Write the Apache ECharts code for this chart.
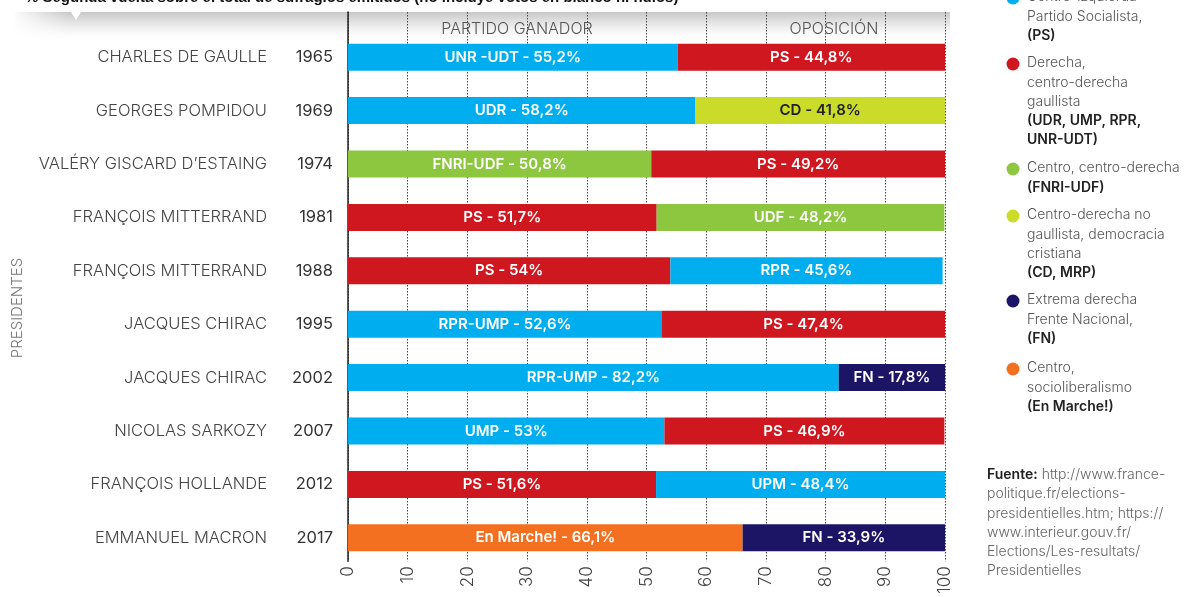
<!DOCTYPE html>
<html>
<head>
<meta charset="utf-8">
<script src="https://cdn.jsdelivr.net/npm/echarts@6/dist/echarts.min.js"></script>
<style>
  html, body { margin: 0; padding: 0; background: #fff; }
  #main { width: 1202px; height: 597px; }
</style>
</head>
<body>
<div id="main"></div>
<script>
// datos segunda vuelta
var presidentes = ['CHARLES DE GAULLE', 'GEORGES POMPIDOU', 'VALÉRY GISCARD D\u2019ESTAING', 'FRANÇOIS MITTERRAND',
  'FRANÇOIS MITTERRAND', 'JACQUES CHIRAC', 'JACQUES CHIRAC', 'NICOLAS SARKOZY', 'FRANÇOIS HOLLANDE', 'EMMANUEL MACRON'];
var anios = ['1965', '1969', '1974', '1981', '1988', '1995', '2002', '2007', '2012', '2017'];

var ganador = [55.2, 58.2, 50.8, 51.7, 54, 52.6, 82.2, 53, 51.6, 66.1];
var ganadorPartido = ['UNR -UDT', 'UDR', 'FNRI-UDF', 'PS', 'PS', 'RPR-UMP', 'RPR-UMP', 'UMP', 'PS', 'En Marche!'];
var ganadorColor = ['azul', 'azul', 'verde', 'rojo', 'rojo', 'azul', 'azul', 'azul', 'rojo', 'naranja'];

var oposicion = [44.8, 41.8, 49.2, 48.2, 45.6, 47.4, 17.8, 46.9, 48.4, 33.9];
var oposicionPartido = ['PS', 'CD', 'PS', 'UDF', 'RPR', 'PS', 'FN', 'PS', 'UPM', 'FN'];
var oposicionColor = ['rojo', 'lima', 'rojo', 'verde', 'azul', 'rojo', 'marino', 'rojo', 'azul', 'marino'];

var ticks = [0, 10, 20, 30, 40, 50, 60, 70, 80, 90, 100];

var colores = {
  azul: '#00aeef',
  rojo: '#cf1720',
  verde: '#8dc63f',
  lima: '#cadb2a',
  marino: '#1c1464',
  naranja: '#f37021'
};

var leyenda = [
  { color: 'azul', lineas: ['Centro-izquierda', 'Partido Socialista,'], negrita: ['(PS)'] },
  { color: 'rojo', lineas: ['Derecha,', 'centro-derecha', 'gaullista'], negrita: ['(UDR, UMP, RPR,', 'UNR-UDT)'] },
  { color: 'verde', lineas: ['Centro, centro-derecha'], negrita: ['(FNRI-UDF)'] },
  { color: 'lima', lineas: ['Centro-derecha no', 'gaullista, democracia', 'cristiana'], negrita: ['(CD, MRP)'] },
  { color: 'marino', lineas: ['Extrema derecha', 'Frente Nacional,'], negrita: ['(FN)'] },
  { color: 'naranja', lineas: ['Centro,', 'socioliberalismo'], negrita: ['(En Marche!)'] }
];
var leyendaY = [-3, 63, 168, 215, 300, 368];

var fuente = ['{b|Fuente:} http://www.france-', 'politique.fr/elections-', 'presidentielles.htm; https://',
  'www.interieur.gouv.fr/', 'Elections/Les-resultats/', 'Presidentielles'];

var FONT = 'Inter, "Noto Sans", sans-serif';

function pct(v) {
  return String(v).replace('.', ',') + '%';
}

var myChart = echarts.init(document.getElementById('main'));

var graphics = [];
// sombra de la cabecera
graphics.push({
  type: 'rect', z: -10,
  shape: { x: 15, y: 12, width: 935, height: 30 },
  style: {
    fill: new echarts.graphic.LinearGradient(0, 0, 0, 1, [
      { offset: 0, color: 'rgba(195,195,195,0.95)' },
      { offset: 0.45, color: 'rgba(220,220,220,0.6)' },
      { offset: 1, color: 'rgba(255,255,255,0)' }
    ])
  }
});
graphics.push({
  type: 'rect', z: -9,
  shape: { x: 10, y: 10, width: 60, height: 34 },
  style: {
    fill: new echarts.graphic.LinearGradient(0, 0, 1, 0, [
      { offset: 0, color: 'rgba(255,255,255,1)' },
      { offset: 1, color: 'rgba(255,255,255,0)' }
    ])
  }
});
graphics.push({
  type: 'polygon', z: -8,
  shape: { points: [[71, 12], [81, 12], [76, 20]] },
  style: { fill: '#fff' }
});
graphics.push({
  type: 'text', left: 25, top: -10,
  style: {
    text: '% Segunda vuelta sobre el total de sufragios emitidos (no incluye votos en blanco ni nulos)',
    font: 'bold 15px "Liberation Sans", Arial, sans-serif', fill: '#111'
  }
});
graphics.push({
  type: 'text', x: 517, y: 29,
  style: { text: 'PARTIDO GANADOR', font: '300 16px ' + FONT, fill: '#555', align: 'center', verticalAlign: 'middle' }
});
graphics.push({
  type: 'text', x: 834, y: 29,
  style: { text: 'OPOSICIÓN', font: '300 16px ' + FONT, fill: '#555', align: 'center', verticalAlign: 'middle' }
});
graphics.push({
  type: 'text', x: 17, y: 308, rotation: Math.PI / 2,
  style: { text: 'PRESIDENTES', font: '300 15px ' + FONT, fill: '#777', align: 'center', verticalAlign: 'middle' }
});

// leyenda
leyenda.forEach(function (item, i) {
  var y0 = leyendaY[i];
  graphics.push({
    type: 'circle',
    shape: { cx: 1013, cy: y0 + 1, r: 6.5 },
    style: { fill: colores[item.color] }
  });
  var lines = item.lineas.concat(item.negrita);
  lines.forEach(function (t, j) {
    var bold = j >= item.lineas.length;
    graphics.push({
      type: 'text', x: 1027, y: y0 + j * 19.3,
      style: {
        text: t, font: (bold ? '600 ' : '300 ') + '14px ' + FONT,
        fill: bold ? '#222' : '#555', verticalAlign: 'middle'
      }
    });
  });
});

// fuente
fuente.forEach(function (t, j) {
  graphics.push({
    type: 'text', x: 987, y: 475 + j * 19.2,
    style: {
      text: t, font: '300 14px ' + FONT, fill: '#666', verticalAlign: 'middle',
      rich: { b: { fontWeight: 600, fill: '#222', fontSize: 14, fontFamily: FONT } }
    }
  });
});

function barData(vals, cols) {
  return vals.map(function (v, i) {
    return { value: v, itemStyle: { color: colores[cols[i]] } };
  });
}

var option = {
  animation: false,
  backgroundColor: '#fff',
  textStyle: { fontFamily: FONT },
  graphic: graphics,
  grid: [
    { left: 348, right: 257, top: 30.5, height: 534, containLabel: false },
    { left: 348, right: 257, top: 12, height: 563, containLabel: false }
  ],
  xAxis: [
    { gridIndex: 0, type: 'value', min: 0, max: 100, show: false },
    {
      gridIndex: 1, type: 'value', min: 0, max: 100, interval: 10,
      axisLine: { show: false }, axisTick: { show: false },
      splitLine: { show: true, lineStyle: { color: '#444', type: [1.5, 1.5], width: 1 } },
      axisLabel: {
        rotate: 90, margin: 5, color: '#444', fontSize: 17, fontWeight: 300,
        formatter: function (v) { return ticks.indexOf(v) >= 0 ? String(v) : ''; }
      }
    }
  ],
  yAxis: [
    {
      gridIndex: 0, type: 'category', data: anios, inverse: true,
      axisLine: { show: false }, axisTick: { show: false },
      axisLabel: { margin: 15, color: '#333', fontSize: 16.5, fontFamily: FONT }
    },
    {
      gridIndex: 0, type: 'category', data: presidentes, inverse: true, position: 'left', offset: 72,
      axisLine: { show: false }, axisTick: { show: false },
      axisLabel: { margin: 9, color: '#444', fontSize: 16.5, fontWeight: 300, fontFamily: FONT }
    },
    {
      gridIndex: 1, type: 'value', min: 0, max: 1, show: true,
      axisLine: { show: true, lineStyle: { color: '#222', width: 1.5 } },
      axisTick: { show: false }, axisLabel: { show: false }, splitLine: { show: false }
    }
  ],
  series: [
    {
      name: 'Ganador', type: 'bar', stack: 'total', xAxisIndex: 0, yAxisIndex: 0,
      barWidth: 27, z: 3,
      data: barData(ganador, ganadorColor),
      label: {
        show: true, position: 'inside', color: '#fff', fontWeight: 600, fontSize: 15, fontFamily: FONT,
        formatter: function (p) { return ganadorPartido[p.dataIndex] + ' - ' + pct(p.value); }
      }
    },
    {
      name: 'Oposición', type: 'bar', stack: 'total', xAxisIndex: 0, yAxisIndex: 0,
      barWidth: 27, z: 3,
      data: barData(oposicion, oposicionColor).map(function (d, i) {
        if (oposicionColor[i] === 'lima') d.label = { color: '#222' };
        return d;
      }),
      label: {
        show: true, position: 'inside', color: '#fff', fontWeight: 600, fontSize: 15, fontFamily: FONT,
        formatter: function (p) { return oposicionPartido[p.dataIndex] + ' - ' + pct(p.value); }
      }
    }
  ]
};

myChart.setOption(option);
</script>
</body>
</html>
